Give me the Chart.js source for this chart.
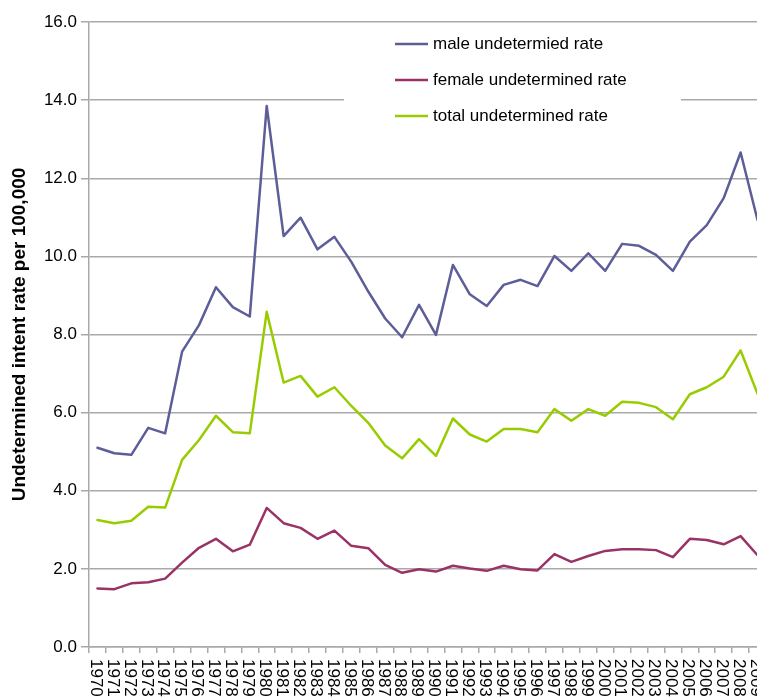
<!DOCTYPE html>
<html>
<head>
<meta charset="utf-8">
<script src="https://cdn.jsdelivr.net/npm/chart.js@4/dist/chart.umd.min.js"></script>
<style>
  html, body { margin: 0; padding: 0; background: #fff; overflow: hidden; }
  #wrap { width: 766px; height: 698px; }
</style>
</head>
<body>
<div id="wrap"><canvas id="c" width="766" height="698"></canvas></div>
<script>
const years = ['1970','1971','1972','1973','1974','1975','1976','1977','1978','1979',
  '1980','1981','1982','1983','1984','1985','1986','1987','1988','1989',
  '1990','1991','1992','1993','1994','1995','1996','1997','1998','1999',
  '2000','2001','2002','2003','2004','2005','2006','2007','2008','2009'];

const maleRate = [5.10, 4.96, 4.92, 5.61, 5.47, 7.56, 8.24, 9.21, 8.70, 8.46,
  13.85, 10.52, 10.99, 10.18, 10.50, 9.86, 9.10, 8.41, 7.93, 8.76,
  7.99, 9.78, 9.03, 8.73, 9.27, 9.40, 9.24, 10.01, 9.63, 10.08,
  9.63, 10.32, 10.27, 10.04, 9.63, 10.38, 10.80, 11.49, 12.66, 10.93];

const femaleRate = [1.50, 1.48, 1.63, 1.66, 1.75, 2.16, 2.54, 2.77, 2.45, 2.62,
  3.56, 3.17, 3.05, 2.77, 2.98, 2.59, 2.53, 2.10, 1.90, 1.99,
  1.93, 2.08, 2.01, 1.95, 2.08, 1.99, 1.96, 2.38, 2.18, 2.33,
  2.46, 2.50, 2.50, 2.48, 2.30, 2.77, 2.74, 2.63, 2.84, 2.35];

const totalRate = [3.25, 3.17, 3.23, 3.59, 3.57, 4.79, 5.30, 5.92, 5.50, 5.47,
  8.58, 6.77, 6.94, 6.41, 6.65, 6.17, 5.74, 5.16, 4.83, 5.32,
  4.89, 5.85, 5.44, 5.26, 5.58, 5.58, 5.50, 6.09, 5.79, 6.09,
  5.92, 6.28, 6.25, 6.14, 5.83, 6.47, 6.65, 6.92, 7.59, 6.48];

const seriesLabels = ['male undetermied rate', 'female undetermined rate', 'total undetermined rate'];
const yTitle = 'Undetermined intent rate per 100,000';

const FONT = "'Liberation Sans', Arial, Helvetica, sans-serif";
const GRID = '#a9a9a9';

const xLabelPlugin = {
  id: 'xLabels',
  afterDraw(chart) {
    const ctx = chart.ctx;
    const xs = chart.scales.x;
    ctx.save();
    ctx.font = '17px ' + FONT;
    ctx.fillStyle = '#000';
    ctx.textAlign = 'left';
    ctx.textBaseline = 'middle';
    chart.data.labels.forEach((lab, i) => {
      const x = xs.getPixelForValue(i) - 2;
      const y = xs.top + 12;
      ctx.save();
      ctx.translate(x, y);
      ctx.rotate(Math.PI / 2);
      ctx.fillText(lab, 0, 0);
      ctx.restore();
    });
    ctx.restore();
  }
};

const legendPlugin = {
  id: 'boxLegend',
  beforeDatasetsDraw(chart) {
    const ctx = chart.ctx;
    const a = chart.chartArea;
    ctx.save();
    ctx.fillStyle = '#fff';
    ctx.fillRect(a.left + 255, a.top + 3, 337, 112);
    ctx.restore();
  },
  afterDatasetsDraw(chart) {
    const ctx = chart.ctx;
    const a = chart.chartArea;
    ctx.save();
    ctx.font = '17px ' + FONT;
    ctx.textAlign = 'left';
    ctx.textBaseline = 'middle';
    chart.data.datasets.forEach((ds, i) => {
      const y = a.top + 22 + i * 36;
      ctx.strokeStyle = ds.borderColor;
      ctx.lineWidth = 2.5;
      ctx.beginPath();
      ctx.moveTo(a.left + 306, y);
      ctx.lineTo(a.left + 339, y);
      ctx.stroke();
      ctx.fillStyle = '#000';
      ctx.fillText(ds.label, a.left + 344, y);
    });
    ctx.restore();
  }
};

new Chart(document.getElementById('c'), {
  type: 'line',
  data: {
    labels: years,
    datasets: [
      { label: seriesLabels[0], data: maleRate, borderColor: '#5d5d99', backgroundColor: '#5d5d99' },
      { label: seriesLabels[1], data: femaleRate, borderColor: '#993366', backgroundColor: '#993366' },
      { label: seriesLabels[2], data: totalRate, borderColor: '#99cc00', backgroundColor: '#99cc00' }
    ]
  },
  options: {
    responsive: false,
    animation: false,
    devicePixelRatio: 1,
    layout: { padding: { top: 22, left: 0, right: 0, bottom: 0 } },
    elements: {
      line: { borderWidth: 2.5, tension: 0, fill: false, borderJoinStyle: 'round', borderCapStyle: 'round' },
      point: { radius: 0, hoverRadius: 0 }
    },
    plugins: {
      legend: { display: false },
      tooltip: { enabled: false }
    },
    scales: {
      x: {
        type: 'category',
        offset: true,
        grid: { display: true, offset: true, drawOnChartArea: false, drawTicks: true, tickLength: 6, color: GRID, lineWidth: 1.5 },
        border: { display: true, color: GRID, width: 1.5 },
        ticks: { display: false },
        afterFit(scale) { scale.height = 51; }
      },
      y: {
        min: 0,
        max: 16,
        ticks: {
          stepSize: 2,
          padding: 4,
          color: '#000',
          font: { family: FONT, size: 17 },
          callback: v => Number(v).toFixed(1)
        },
        grid: { color: GRID, lineWidth: 1.5, tickLength: 8, drawTicks: true },
        border: { display: true, color: GRID, width: 1.5 },
        title: {
          display: true,
          text: yTitle,
          color: '#000',
          font: { family: FONT, size: 19, weight: 'bold' },
          padding: { top: 8, bottom: 0 }
        },
        afterFit(scale) { scale.width = 89; }
      }
    }
  },
  plugins: [xLabelPlugin, legendPlugin]
});
</script>
</body>
</html>
